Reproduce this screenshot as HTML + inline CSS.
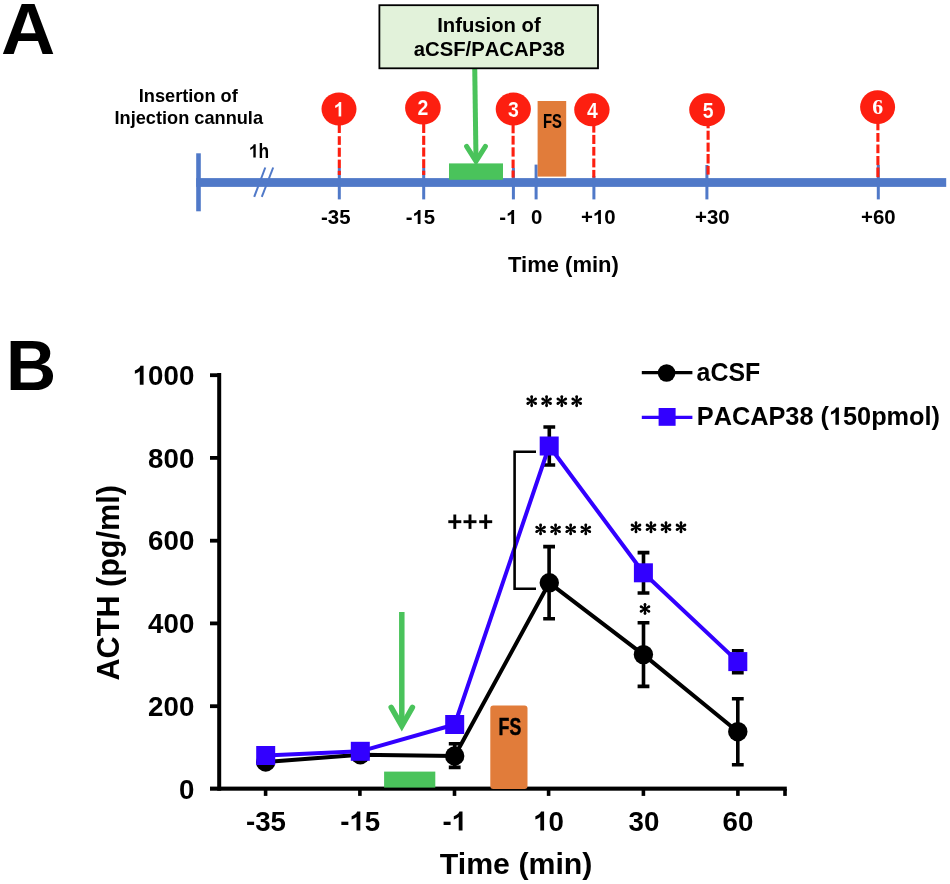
<!DOCTYPE html>
<html>
<head>
<meta charset="utf-8">
<title>Figure</title>
<style>
  html, body { margin: 0; padding: 0; background: #ffffff; }
  body { width: 950px; height: 884px; overflow: hidden; font-family: "Liberation Sans", sans-serif; }
  svg { display: block; filter: blur(0.55px); }
  text { font-family: "Liberation Sans", sans-serif; font-weight: bold; }
</style>
</head>
<body>
<svg width="950" height="884" viewBox="0 0 950 884">
  <rect x="0" y="0" width="950" height="884" fill="#ffffff"/>

  <g id="panelA">
    <text transform="translate(0.90,54.30) scale(1.03,1)" font-size="73" fill="#000">A</text>
    <text x="138.76" y="102.30" font-size="18.2" fill="#000">Insertion of</text>
    <text x="114.47" y="123.80" font-size="18.2" fill="#000">Injection cannula</text>
    <rect x="196.2" y="153.3" width="4.6" height="58" fill="#5079c8"/>
    <rect x="196.2" y="178.1" width="750" height="8.8" fill="#5079c8"/>
    <line x1="254.2" y1="196.8" x2="265.3" y2="167.5" stroke="#5079c8" stroke-width="2"/>
    <line x1="261.8" y1="196.8" x2="273.2" y2="167.5" stroke="#5079c8" stroke-width="2"/>
    <path transform="translate(248.90,157.60) scale(0.00848,-0.00942)" d="M805 0H524V1010Q370 880 161 815V1055Q271 1090 400 1185Q529 1280 577 1409H805Z" fill="#000"/>
    <text transform="translate(258.56,157.60) scale(0.9,1)" font-size="19.3" fill="#000">h</text>
    <g fill="#5079c8">
      <rect x="337.8" y="168" width="3" height="31.4"/>
      <rect x="422.2" y="168" width="3" height="31.4"/>
      <rect x="511.9" y="168" width="3" height="31.4"/>
      <rect x="534.6" y="164.6" width="3" height="34.8"/>
      <rect x="592.4" y="176" width="3" height="23.4"/>
      <rect x="705.4" y="165" width="3" height="34.4"/>
      <rect x="876.8" y="165" width="3" height="34.4"/>
    </g>
    <rect x="449" y="163.4" width="54" height="16.4" fill="#4ac35b"/>
    <g stroke="#4ac35b" stroke-width="5" fill="none" stroke-linecap="round">
      <line x1="474.7" y1="66" x2="476" y2="160" stroke-linecap="butt"/>
      <polyline points="466.6,146.3 476,161.2 485.4,146.3"/>
    </g>
    <rect x="379.4" y="5.2" width="218.6" height="63.1" fill="#e2f2da" stroke="#000" stroke-width="1.8"/>
    <text x="437.13" y="31.50" font-size="20.3" fill="#000">Infusion of</text>
    <text x="413.72" y="55.60" font-size="20.3" fill="#000" style="font-kerning:none">aCSF/PACAP38</text>
    <rect x="537.6" y="101" width="28.6" height="75.6" fill="#e17c3a"/>
    <text transform="translate(542.90,127.70) scale(0.765,1)" font-size="19.3" fill="#000" stroke="#000" stroke-width="0.12">FS</text>
    <g fill="#fd1f10">
      <rect x="337.75" y="122" width="3.1" height="11.0"/>
      <rect x="337.75" y="136.2" width="3.1" height="8.7"/>
      <rect x="337.75" y="147.7" width="3.1" height="9.1"/>
      <rect x="337.75" y="159.6" width="3.1" height="8.5"/>
      <rect x="337.75" y="170.8" width="3.1" height="4.2"/>
      <rect x="422.15" y="122" width="3.1" height="11.0"/>
      <rect x="422.15" y="135.8" width="3.1" height="9.1"/>
      <rect x="422.15" y="147.5" width="3.1" height="9.1"/>
      <rect x="422.15" y="159.2" width="3.1" height="8.8"/>
      <rect x="422.15" y="170.7" width="3.1" height="4.3"/>
      <rect x="511.55" y="122" width="3.1" height="11.3"/>
      <rect x="511.55" y="135.8" width="3.1" height="8.8"/>
      <rect x="511.55" y="147.3" width="3.1" height="9.3"/>
      <rect x="511.55" y="159.6" width="3.1" height="8.4"/>
      <rect x="511.55" y="170.5" width="3.1" height="7.1"/>
      <rect x="592.25" y="122" width="3.1" height="10.6"/>
      <rect x="592.25" y="134.9" width="3.1" height="9.1"/>
      <rect x="592.25" y="146.9" width="3.1" height="8.7"/>
      <rect x="592.25" y="158.5" width="3.1" height="8.9"/>
      <rect x="592.25" y="169.9" width="3.1" height="7.7"/>
      <rect x="706.55" y="122" width="3.1" height="6.3"/>
      <rect x="706.55" y="130.7" width="3.1" height="9.1"/>
      <rect x="706.55" y="142.6" width="3.1" height="9.1"/>
      <rect x="706.55" y="154" width="3.1" height="9.5"/>
      <rect x="706.55" y="165.9" width="3.1" height="8.7"/>
      <rect x="876.35" y="120" width="3.1" height="10.3"/>
      <rect x="876.35" y="133" width="3.1" height="8.8"/>
      <rect x="876.35" y="144.5" width="3.1" height="8.7"/>
      <rect x="876.35" y="156" width="3.1" height="9.1"/>
      <rect x="876.35" y="167.5" width="3.1" height="9.7"/>
    </g>
    <ellipse cx="339" cy="109.0" rx="17.5" ry="16.5" fill="#fd1f10"/>
    <path transform="translate(333.58,116.50) scale(0.00952,-0.01035)" d="M805 0H524V1010Q370 880 161 815V1055Q271 1090 400 1185Q529 1280 577 1409H805Z" fill="#fff" stroke="#fd1f10" vector-effect="non-scaling-stroke" stroke-width="0.12"/>
    <ellipse cx="422.9" cy="107.9" rx="17.8" ry="16.6" fill="#fd1f10"/>
    <text transform="translate(417.48,115.40) scale(0.92,1)" font-size="21.2" fill="#fff" stroke="#fd1f10" stroke-width="0.12">2</text>
    <ellipse cx="513.3" cy="109.1" rx="17.6" ry="16.5" fill="#fd1f10"/>
    <text transform="translate(508.08,116.80) scale(0.92,1)" font-size="21.2" fill="#fff" stroke="#fd1f10" stroke-width="0.12">3</text>
    <ellipse cx="591.9" cy="109.7" rx="17.7" ry="16.5" fill="#fd1f10"/>
    <text transform="translate(586.88,117.50) scale(0.92,1)" font-size="21.2" fill="#fff" stroke="#fd1f10" stroke-width="0.12">4</text>
    <ellipse cx="707.1" cy="109.7" rx="17.9" ry="16.5" fill="#fd1f10"/>
    <text transform="translate(702.68,118.30) scale(0.92,1)" font-size="21.2" fill="#fff" stroke="#fd1f10" stroke-width="0.12">5</text>
    <ellipse cx="877.6" cy="107.1" rx="17.5" ry="16.9" fill="#fd1f10"/>
    <text x="877.6" y="114.4" font-size="21.8" text-anchor="middle" fill="#fff" style="font-family:'Liberation Serif',serif">6</text>
    <text x="321.00" y="224.00" font-size="20.4" fill="#000">-35</text>
    <text x="405.70" y="224.00" font-size="20.4" fill="#000">-</text>
    <path transform="translate(412.49,224.00) scale(0.00996,-0.00996)" d="M805 0H524V1010Q370 880 161 815V1055Q271 1090 400 1185Q529 1280 577 1409H805Z" fill="#000"/>
    <text x="423.84" y="224.00" font-size="20.4" fill="#000">5</text>
    <text x="499.30" y="224.00" font-size="20.4" fill="#000">-</text>
    <path transform="translate(506.09,224.00) scale(0.00996,-0.00996)" d="M805 0H524V1010Q370 880 161 815V1055Q271 1090 400 1185Q529 1280 577 1409H805Z" fill="#000"/>
    <text x="531.00" y="224.00" font-size="20.4" fill="#000">0</text>
    <text x="581.00" y="224.00" font-size="20.4" fill="#000">+</text>
    <path transform="translate(592.91,224.00) scale(0.00996,-0.00996)" d="M805 0H524V1010Q370 880 161 815V1055Q271 1090 400 1185Q529 1280 577 1409H805Z" fill="#000"/>
    <text x="604.26" y="224.00" font-size="20.4" fill="#000">0</text>
    <text x="695.00" y="224.00" font-size="20.4" fill="#000">+30</text>
    <text x="861.00" y="224.00" font-size="20.4" fill="#000">+60</text>
    <text x="508.00" y="271.70" font-size="22" fill="#000">Time (min)</text>
  </g>
  <g id="panelB">
    <text x="6.00" y="390.20" font-size="69.5" fill="#000">B</text>
    <g fill="#000">
      <rect x="217.2" y="373" width="4" height="417.7"/>
      <rect x="210" y="786.6" width="576.8" height="4.1"/>
      <rect x="210" y="373.3" width="9" height="3.8"/>
      <rect x="210" y="456.0" width="9" height="3.8"/>
      <rect x="210" y="538.8" width="9" height="3.8"/>
      <rect x="210" y="621.5" width="9" height="3.8"/>
      <rect x="210" y="704.3" width="9" height="3.8"/>
      <rect x="263.8" y="789" width="3.6" height="6.9"/>
      <rect x="358.1" y="789" width="3.6" height="6.9"/>
      <rect x="452.7" y="789" width="3.6" height="6.9"/>
      <rect x="546.8" y="789" width="3.6" height="6.9"/>
      <rect x="641.6" y="789" width="3.6" height="6.9"/>
      <rect x="736.1" y="789" width="3.6" height="6.9"/>
      <rect x="783.2" y="789" width="3.6" height="6.9"/>
    </g>
    <path transform="translate(132.68,384.80) scale(0.01353,-0.01353)" d="M805 0H524V1010Q370 880 161 815V1055Q271 1090 400 1185Q529 1280 577 1409H805Z" fill="#000"/>
    <text x="148.08" y="384.80" font-size="27.7" fill="#000">000</text>
    <text x="148.08" y="467.54" font-size="27.7" fill="#000">800</text>
    <text x="148.08" y="550.28" font-size="27.7" fill="#000">600</text>
    <text x="148.08" y="633.02" font-size="27.7" fill="#000">400</text>
    <text x="148.08" y="715.76" font-size="27.7" fill="#000">200</text>
    <text x="178.89" y="798.50" font-size="27.7" fill="#000">0</text>
    <text transform="translate(119.2,680.5) rotate(-90)" font-size="30.6" fill="#000">ACTH (pg/ml)</text>
    <text x="246.00" y="830.60" font-size="27.7" fill="#000">-35</text>
    <text x="340.20" y="830.60" font-size="27.7" fill="#000">-</text>
    <path transform="translate(349.42,830.60) scale(0.01353,-0.01353)" d="M805 0H524V1010Q370 880 161 815V1055Q271 1090 400 1185Q529 1280 577 1409H805Z" fill="#000"/>
    <text x="364.83" y="830.60" font-size="27.7" fill="#000">5</text>
    <text x="442.40" y="830.60" font-size="27.7" fill="#000">-</text>
    <path transform="translate(451.62,830.60) scale(0.01353,-0.01353)" d="M805 0H524V1010Q370 880 161 815V1055Q271 1090 400 1185Q529 1280 577 1409H805Z" fill="#000"/>
    <path transform="translate(533.20,830.60) scale(0.01353,-0.01353)" d="M805 0H524V1010Q370 880 161 815V1055Q271 1090 400 1185Q529 1280 577 1409H805Z" fill="#000"/>
    <text x="548.61" y="830.60" font-size="27.7" fill="#000">0</text>
    <text x="628.50" y="830.60" font-size="27.7" fill="#000">30</text>
    <text x="722.50" y="830.60" font-size="27.7" fill="#000">60</text>
    <text x="439.80" y="874.20" font-size="30.3" fill="#000">Time (min)</text>
    <rect x="384.1" y="771.6" width="51.2" height="16" fill="#4ac35b"/>
    <g stroke="#4ac35b" stroke-width="5.5" fill="none" stroke-linecap="round">
      <line x1="401.8" y1="612" x2="401.8" y2="725.5" stroke-linecap="butt"/>
      <polyline points="391.2,707.4 401.8,726 412.4,707.4"/>
    </g>
    <rect x="490.3" y="705.5" width="37.2" height="83.4" rx="3" ry="3" fill="#e17c3a"/>
    <text transform="translate(498.60,735.00) scale(0.76,1)" font-size="23.3" fill="#000" stroke="#000" stroke-width="0.5">FS</text>
    <g stroke="#000" stroke-width="3.6" fill="none">
      <path d="M549.3 427 V465 M543.4 427 H555.2 M543.4 465 H555.2"/>
      <path d="M643.5 552.6 V593 M637.6 552.6 H649.4 M637.6 593 H649.4"/>
      <path d="M737.8 650.8 V672.8 M731.9 650.8 H743.7 M731.9 672.8 H743.7"/>
      <path d="M454.7 743.7 V767.4 M448.8 743.7 H460.6 M448.8 767.4 H460.6"/>
      <path d="M549.1 546.6 V618.7 M543.2 546.6 H555.0 M543.2 618.7 H555.0"/>
      <path d="M643.5 622.8 V686.4 M637.6 622.8 H649.4 M637.6 686.4 H649.4"/>
      <path d="M737.8 698.7 V764.7 M731.9 698.7 H743.7 M731.9 764.7 H743.7"/>
    </g>
    <polyline points="265.7,762 360.3,754.7 454.7,756 549.3,582.8 643.4,654.6 737.8,731.7" fill="none" stroke="#000" stroke-width="4" stroke-linejoin="round"/>
    <circle cx="265.7" cy="762" r="9.7" fill="#000"/>
    <circle cx="360.3" cy="754.7" r="9.7" fill="#000"/>
    <circle cx="454.7" cy="756" r="9.7" fill="#000"/>
    <circle cx="549.3" cy="582.8" r="9.7" fill="#000"/>
    <circle cx="643.4" cy="654.6" r="9.7" fill="#000"/>
    <circle cx="737.8" cy="731.7" r="9.7" fill="#000"/>
    <polyline points="265.7,755.5 360.3,751.3 454.7,724.5 549.2,446 643.4,572.8 737.8,661.6" fill="none" stroke="#3200ff" stroke-width="4" stroke-linejoin="round"/>
    <rect x="256.2" y="746.0" width="19" height="19" fill="#3200ff"/>
    <rect x="350.8" y="741.8" width="19" height="19" fill="#3200ff"/>
    <rect x="445.2" y="715.0" width="19" height="19" fill="#3200ff"/>
    <rect x="539.7" y="436.5" width="19" height="19" fill="#3200ff"/>
    <rect x="633.9" y="563.3" width="19" height="19" fill="#3200ff"/>
    <rect x="728.3" y="652.1" width="19" height="19" fill="#3200ff"/>
    <path d="M536 451.7 H514.6 V588.8 H536" fill="none" stroke="#000" stroke-width="2.6"/>
    <defs>
      <g id="arm" fill="#000"><polygon points="-0.75,0 -1.35,-4.6 1.35,-4.6 0.75,0 1.35,4.6 -1.35,4.6"/><circle cx="0" cy="-4.6" r="1.35"/><circle cx="0" cy="4.6" r="1.35"/></g>
      <g id="ast">
        <use href="#arm"/>
        <use href="#arm" transform="rotate(60)"/>
        <use href="#arm" transform="rotate(-60)"/>
      </g>
      <g id="plus" stroke="#000" stroke-width="2.9">
        <line x1="0" y1="-7.2" x2="0" y2="7.2"/>
        <line x1="-6.5" y1="0" x2="6.5" y2="0"/>
      </g>
    </defs>
    <use href="#ast" x="531.7" y="401.2"/><use href="#ast" x="546.6" y="401.2"/><use href="#ast" x="561.8" y="401.2"/><use href="#ast" x="576.7" y="401.2"/>
    <use href="#ast" x="540.6" y="529.4"/><use href="#ast" x="555.6" y="529.4"/><use href="#ast" x="570.7" y="529.4"/><use href="#ast" x="585.8" y="529.4"/>
    <use href="#ast" x="636" y="527.3"/><use href="#ast" x="651" y="527.3"/><use href="#ast" x="666" y="527.3"/><use href="#ast" x="681" y="527.3"/>
    <use href="#ast" x="645" y="609"/>
    <use href="#plus" x="454.8" y="521.7"/><use href="#plus" x="470" y="521.7"/><use href="#plus" x="485.7" y="521.7"/>
    <line x1="641.8" y1="372.6" x2="692.4" y2="372.6" stroke="#000" stroke-width="3.2"/>
    <circle cx="666.6" cy="373" r="8.8" fill="#000"/>
    <text x="696.60" y="381.00" font-size="24.9" fill="#000" style="font-kerning:none">aCSF</text>
    <line x1="641.8" y1="417.3" x2="692.4" y2="417.3" stroke="#3200ff" stroke-width="3.2"/>
    <rect x="658.6" y="408" width="17" height="17.8" fill="#3200ff"/>
    <text x="696.80" y="424.80" font-size="25.3" fill="#000" style="font-kerning:none">PACAP38 (</text>
    <path transform="translate(828.96,424.80) scale(0.01235,-0.01235)" d="M805 0H524V1010Q370 880 161 815V1055Q271 1090 400 1185Q529 1280 577 1409H805Z" fill="#000"/>
    <text x="843.03" y="424.80" font-size="25.3" fill="#000" style="font-kerning:none">50pmol)</text>
  </g>
</svg>
</body>
</html>
